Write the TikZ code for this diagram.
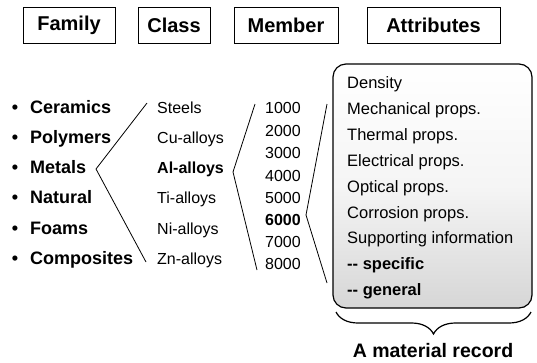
\documentclass[tikz,border=0pt]{standalone}
\usepackage{fontspec}
\setmainfont{Liberation Sans}
\usetikzlibrary{decorations.pathreplacing,calc}
\begin{document}
\begin{tikzpicture}[x=1pt,y=-1pt,
  hdr/.style={draw,line width=0.8pt,minimum height=36pt,inner sep=0pt,font=\fontsize{20}{24}\selectfont\bfseries},
  fam/.style={anchor=base west,inner sep=0pt,font=\fontsize{18}{22}\selectfont\bfseries},
  bul/.style={anchor=base,inner sep=0pt,font=\fontsize{18}{22}\selectfont\bfseries},
  cls/.style={anchor=base west,inner sep=0pt,font=\fontsize{16}{20}\selectfont},
  mem/.style={anchor=base west,inner sep=0pt,font=\fontsize{16}{20}\selectfont},
  att/.style={anchor=base west,inner sep=0pt,font=\fontsize{16.5}{20}\selectfont},
  conn/.style={line width=0.8pt}
]
\useasboundingbox (0,0) rectangle (537,362);
% headers
\node[hdr,minimum width=92pt] (hfam) at (69,25) {Family};
\node[hdr,minimum width=72pt] (hcls) at (174,25) {Class};
\node[hdr,minimum width=104pt] (hmem) at (286,25) {Member};
\node[hdr,minimum width=133pt] (hatt) at (433.5,25) {Attributes};
% attribute panel
\node[draw,line width=1.2pt,rounded corners=13pt,minimum width=199pt,minimum height=244pt,inner sep=0pt,
      top color=white,bottom color=black!16,middle color=black!4] (panel) at (432.5,186) {};
% family column
\foreach \n/\t/\y in {cer/Ceramics/113.5,pol/Polymers/143.5,met/Metals/173.5,nat/Natural/203.5,foa/Foams/234.5,com/Composites/264.5}{
  \node[bul] (b\n) at (15,\y) {•};
  \node[fam] (\n) at (30,\y) {\t};
}
% class column
\node[cls] (steels) at (157,113.5) {Steels};
\node[cls] (cu) at (157,143.5) {Cu-alloys};
\node[cls,font=\fontsize{16}{20}\selectfont\bfseries] (al) at (157,173.5) {Al-alloys};
\node[cls] (ti) at (157,203.5) {Ti-alloys};
\node[cls] (ni) at (157,234.5) {Ni-alloys};
\node[cls] (zn) at (157,264.5) {Zn-alloys};
% member column
\foreach \n/\y in {1000/113,2000/136,3000/158,4000/181,5000/203,7000/247,8000/269}{
  \node[mem] (m\n) at (265,\y) {\n};
}
\node[mem,font=\fontsize{16}{20}\selectfont\bfseries] (m6000) at (265,225) {6000};
% attributes
\node[att] (a1) at (347,88) {Density};
\node[att] (a2) at (347,114) {Mechanical props.};
\node[att] (a3) at (347,140) {Thermal props.};
\node[att] (a4) at (347,166) {Electrical props.};
\node[att] (a5) at (347,192) {Optical props.};
\node[att] (a6) at (347,218) {Corrosion props.};
\node[att] (a7) at (347,243) {Supporting information};
\node[att,font=\fontsize{16.5}{20}\selectfont\bfseries] (a8) at (347,269) {-{}- specific};
\node[att,font=\fontsize{16.5}{20}\selectfont\bfseries] (a9) at (347,295) {-{}- general};
% connectors
\coordinate (f1) at (147,103); \coordinate (fv) at (96,169); \coordinate (f2) at (146,262);
\draw[conn] (f1) -- (fv) -- (f2);
\coordinate (c1) at (255,104); \coordinate (cv) at (233,172); \coordinate (c2) at (257,270);
\draw[conn] (c1) -- (cv) -- (c2);
\coordinate (d1) at (327,104); \coordinate (dv) at (306,215); \coordinate (d2) at (327,283);
\draw[conn] (d1) -- (dv) -- (d2);
% brace
\coordinate (br1) at (336,312); \coordinate (br2) at (531,312);
\draw[decorate,decoration={brace,amplitude=22pt,mirror},line width=1.2pt] (br1) -- (br2);
\node[anchor=base,inner sep=0pt,font=\fontsize{19.5}{22}\selectfont\bfseries] (rec) at (433,357) {A material record};
\end{tikzpicture}
\end{document}
